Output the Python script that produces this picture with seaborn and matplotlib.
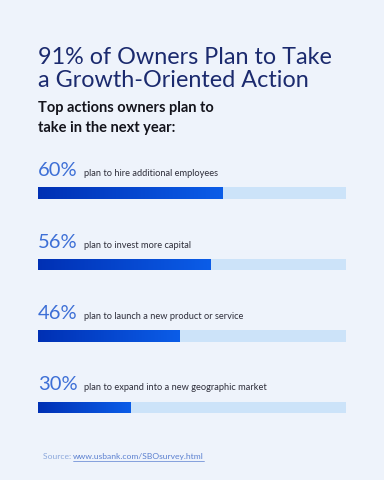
import matplotlib
matplotlib.use("Agg")
import matplotlib.pyplot as plt
import seaborn as sns
import numpy as np
import pandas as pd
from matplotlib.colors import LinearSegmentedColormap
from matplotlib.lines import Line2D

# ---- data ----
percent_values = [60, 56, 46, 30]
actions = [
    "plan to hire additional employees",
    "plan to invest more capital",
    "plan to launch a new product or service",
    "plan to expand into a new geographic market",
]
track_max = 100

title_text = "91% of Owners Plan to Take\na Growth-Oriented Action"
subtitle_lines = ["Top actions owners plan to", "take in the next year:"]
source_label = "Source: "
source_link = "www.usbank.com/SBOsurvey.html"

df = pd.DataFrame({"action": actions, "pct": percent_values,
                   "track": [track_max] * len(actions)})

BG = "#eef3fb"
TRACK = "#cce3f9"
PCT_COLOR = "#3d6fd6"
TXT_COLOR = "#2e2e3a"
TITLE_COLOR = "#1b2a6e"

sns.set_theme(style="white")
plt.rcParams["font.family"] = ["Lato", "DejaVu Sans"]

W, H = 384, 480
fig = plt.figure(figsize=(W / 100, H / 100), dpi=100, facecolor=BG)

# axes in pixel coordinates: x 38..346, y 150..436 (top..bottom)
left_px, right_px, top_px, bot_px = 38, 346, 150, 436
ax = fig.add_axes([left_px / W, 1 - bot_px / H,
                   (right_px - left_px) / W, (bot_px - top_px) / H])
ax.set_facecolor(BG)

bar_w = 0.155
sns.barplot(data=df, y="action", x="track", color=TRACK, width=bar_w,
            saturation=1, ax=ax, orient="h")
n_track = len(ax.patches)
sns.barplot(data=df, y="action", x="pct", color="#0a45d0", width=bar_w,
            saturation=1, ax=ax, orient="h")
for p in ax.patches:
    p.set_linewidth(0)

px_per_unit = 71.5
y0 = (193 - top_px) / px_per_unit

# gradient fill on the value bars
cmap = LinearSegmentedColormap.from_list("g", ["#0030b4", "#0b5de8"])
grad = np.linspace(0, 1, 256).reshape(1, -1)
for p in ax.patches[n_track:]:
    x, y = p.get_x(), p.get_y()
    w, h = p.get_width(), p.get_height()
    im = ax.imshow(grad, cmap=cmap, aspect="auto",
                   extent=[x, x + w, y + h, y], zorder=3)
    im.set_clip_path(p)
    p.set_facecolor("none")
ax.set_xlim(0, track_max)
ax.set_ylim((bot_px - top_px) / px_per_unit - y0, -y0)
ax.axis("off")

# labels above each bar
off = 17 / px_per_unit
trans = matplotlib.transforms.blended_transform_factory(ax.transAxes, ax.transData)
for i, (v, a) in enumerate(zip(percent_values, actions)):
    ax.text(0.0, i - off, f"{v}%", transform=trans, fontsize=14.5,
            color=PCT_COLOR, fontweight="normal", va="baseline", ha="left")
    ax.text((84 - left_px) / (right_px - left_px), i - off, a, transform=trans,
            fontsize=6.7, color=TXT_COLOR, va="baseline", ha="left")

# title & subtitle
fig.text(38 / W, 1 - 87 / H, title_text, fontsize=16.8, color=TITLE_COLOR,
         va="baseline", ha="left", linespacing=1.1)
fig.text(38 / W, 1 - 112 / H, subtitle_lines[0], fontsize=10.5,
         color="#14141c", fontweight="bold", va="baseline", ha="left")
fig.text(38 / W, 1 - 132 / H, subtitle_lines[1], fontsize=10.5,
         color="#14141c", fontweight="bold", va="baseline", ha="left")

# source
t1 = fig.text(43 / W, 1 - 459 / H, source_label, fontsize=6.1, color="#8ca8dc",
              va="baseline", ha="left")
fig.canvas.draw()
r = fig.canvas.get_renderer()
bb = t1.get_window_extent(renderer=r)
t2 = fig.text(bb.x1 / W, 1 - 459 / H, source_link, fontsize=6.1,
              color="#5b80d0", va="baseline", ha="left")
fig.canvas.draw()
bb2 = t2.get_window_extent(renderer=r)
uy = (H - 460.5) / H
fig.add_artist(Line2D([bb2.x0 / W, bb2.x1 / W], [uy, uy], color="#5b80d0",
                      lw=0.5, transform=fig.transFigure))

fig.savefig("out.png", dpi=100, facecolor=BG)
